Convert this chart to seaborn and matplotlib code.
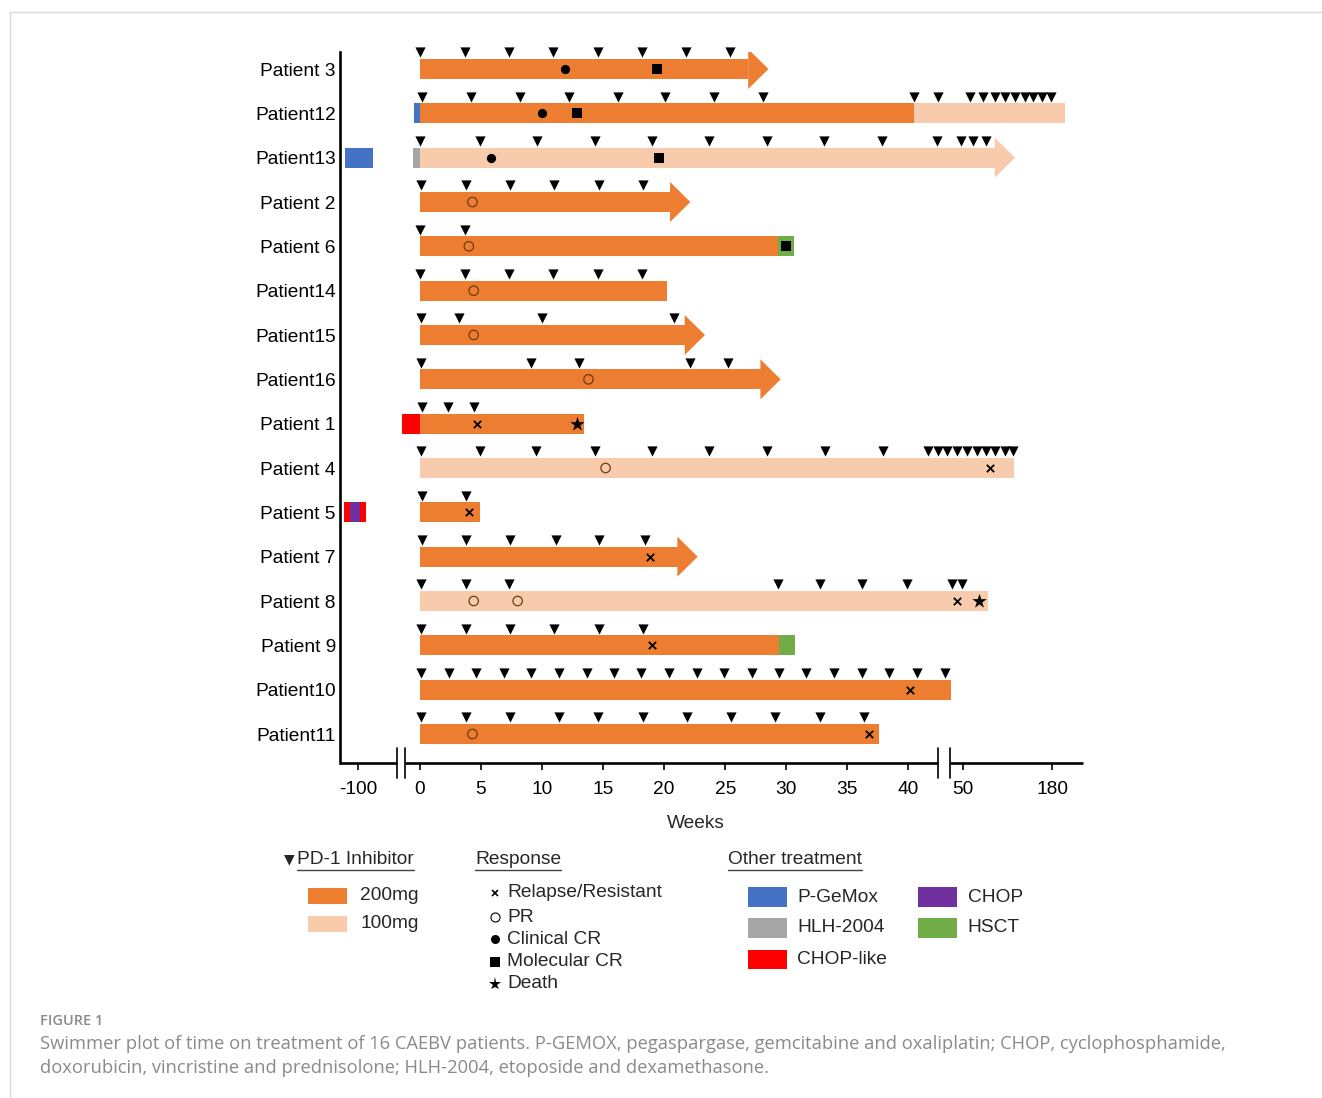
import numpy as np
import pandas as pd
import matplotlib.pyplot as plt
import seaborn as sns
from matplotlib.patches import Polygon, Rectangle
from matplotlib.lines import Line2D
import matplotlib.transforms as mtransforms

# 1. Dados (semanas)

patients = ["Patient 3", "Patient12", "Patient13", "Patient 2", "Patient 6", "Patient14",
            "Patient15", "Patient16", "Patient 1", "Patient 4", "Patient 5", "Patient 7",
            "Patient 8", "Patient 9", "Patient10", "Patient11"]

# PD-1 inhibitor: (patient, start, end)
dose_200mg = [("Patient 3", 0, 26.9), ("Patient12", 0, 41.0), ("Patient 2", 0, 20.5),
              ("Patient 6", 0, 29.3), ("Patient14", 0, 20.2), ("Patient15", 0, 21.7),
              ("Patient16", 0, 27.9), ("Patient 1", 0, 13.4), ("Patient 5", 0, 4.9),
              ("Patient 7", 0, 21.1), ("Patient 9", 0, 29.4), ("Patient10", 0, 47.8),
              ("Patient11", 0, 37.6)]
dose_100mg = [("Patient12", 41.0, 198.5), ("Patient13", 0, 96.2), ("Patient 4", 0, 124.0),
              ("Patient 8", 0, 86.0)]

# still on treatment (arrow at the end)
ongoing = ["Patient 3", "Patient13", "Patient 2", "Patient15", "Patient16", "Patient 7"]

# other treatment: (patient, treatment, start, end)
other_tx = [("Patient12", "P-GeMox", -0.5, 0), ("Patient13", "P-GeMox", -111.2, -87.7),
            ("Patient13", "HLH-2004", -0.6, 0), ("Patient 1", "CHOP-like", -1.5, 0),
            ("Patient 5", "CHOP-like", -111.4, -106.8), ("Patient 5", "CHOP", -106.8, -98.6),
            ("Patient 5", "CHOP-like", -98.6, -93.9), ("Patient 6", "HSCT", 29.3, 30.6),
            ("Patient 9", "HSCT", 29.4, 30.7)]

# PD-1 doses (weeks)
pd1_doses = {
    "Patient 3": [0, 3.7, 7.3, 10.9, 14.6, 18.2, 21.8, 25.4],
    "Patient12": [0.2, 4.2, 8.2, 12.2, 16.2, 20.1, 24.1, 28.1, 41.0, 45.4, 59.8, 79.1,
                  96.2, 110.8, 125.4, 140.0, 152.2, 164.5, 177.5],
    "Patient13": [0, 4.9, 9.6, 14.3, 19.0, 23.7, 28.4, 33.1, 37.8, 45.2, 49.5, 64.6, 82.6],
    "Patient 2": [0.1, 3.8, 7.4, 11.0, 14.7, 18.3],
    "Patient 6": [0, 3.7],
    "Patient14": [0, 3.7, 7.3, 10.9, 14.6, 18.2],
    "Patient15": [0.1, 3.2, 10.0, 20.8],
    "Patient16": [0.1, 9.1, 13.0, 22.1, 25.2],
    "Patient 1": [0.2, 2.3, 4.4],
    "Patient 4": [0.1, 4.9, 9.5, 14.3, 19.0, 23.7, 28.4, 33.2, 37.9, 43.6, 45.3, 47.0,
                  48.8, 55.3, 69.3, 83.2, 96.9, 110.8, 122.0],
    "Patient 5": [0.2, 3.8],
    "Patient 7": [0.2, 3.8, 7.4, 11.1, 14.7, 18.4],
    "Patient 8": [0.1, 3.8, 7.3, 29.3, 32.8, 36.2, 39.9, 48.0, 49.8],
    "Patient 9": [0.1, 3.8, 7.4, 11.0, 14.7, 18.3],
    "Patient10": [0.1, 2.4, 4.6, 6.9, 9.1, 11.4, 13.7, 15.9, 18.1, 20.4, 22.7, 24.9,
                  27.2, 29.4, 31.6, 33.9, 36.2, 38.4, 41.6, 46.6],
    "Patient11": [0.1, 3.8, 7.4, 11.4, 14.6, 18.3, 21.9, 25.5, 29.1, 32.8, 36.4],
}

# respostas: (patient, week)
relapse = [("Patient 1", 4.7), ("Patient 4", 88.9), ("Patient 5", 4.0), ("Patient 7", 18.8),
           ("Patient 8", 48.9), ("Patient 9", 19.0), ("Patient10", 40.3), ("Patient11", 36.8)]
pr = [("Patient 2", 4.3), ("Patient 6", 4.0), ("Patient14", 4.4), ("Patient15", 4.4),
      ("Patient16", 13.8), ("Patient 4", 15.2), ("Patient 8", 4.4), ("Patient 8", 8.0),
      ("Patient11", 4.3)]
clinical_cr = [("Patient 3", 11.9), ("Patient12", 10.0), ("Patient13", 5.8)]
molecular_cr = [("Patient 3", 19.4), ("Patient12", 12.9), ("Patient13", 19.6), ("Patient 6", 30.0)]
death = [("Patient 1", 12.9), ("Patient 8", 73.5)]

x_ticks = [-100, 0, 5, 10, 15, 20, 25, 30, 35, 40, 50, 180]

tx_colors = {"P-GeMox": "#4472C4", "HLH-2004": "#A5A5A5", "CHOP-like": "#FF0000",
             "CHOP": "#7030A0", "HSCT": "#70AD47"}
c200 = "#ED7D31"
c100 = "#F8CBAD"

# eixo quebrado: semanas -> posicao no grafico
WK_ANCH = [-200, -100, -70, -2, 40, 50, 180, 400]
POS_ANCH = [-15.05, -5.05, -2.05, -2, 40, 44.5, 51.79, 64.13]


def to_pos(w):
    return np.interp(w, WK_ANCH, POS_ANCH)


row = {p: i for i, p in enumerate(patients)}

# 2. Figura
sns.set_theme(style="white")
plt.rcParams['font.family'] = ['Liberation Sans', 'DejaVu Sans']

W, H = 1322, 1098
fig = plt.figure(figsize=(W / 100, H / 100), dpi=100)


def fx(px):
    return px / W


def fy(py):
    return 1 - py / H


ax = fig.add_axes([fx(340), fy(763), (1083 - 340) / W, (763 - 52) / H])
ax.set_xlim(-6.55, 54.3)
ax.set_ylim(15.654, -0.3835)

bar_h = 0.444
head_len = 1.64
head_half = 0.451
fs = 13.8

# barras PD-1
last_seg = {}
for segs, col in [(dose_200mg, c200), (dose_100mg, c100)]:
    for p, s, e in segs:
        x0, x1 = to_pos(s), to_pos(e)
        ax.barh(row[p], x1 - x0, left=x0, height=bar_h, color=col, edgecolor="none", zorder=2)
        if p not in last_seg or e > last_seg[p][1]:
            last_seg[p] = (col, e)

# pontas de seta (em tratamento)
for p in ongoing:
    col, e = last_seg[p]
    xe = to_pos(e)
    y = row[p]
    ax.add_patch(Polygon([(xe - 0.02, y - head_half), (xe + head_len, y), (xe - 0.02, y + head_half)],
                         closed=True, facecolor=col, edgecolor="none", zorder=2))

# outros tratamentos
for p, t, s, e in other_tx:
    x0, x1 = to_pos(s), to_pos(e)
    ax.barh(row[p], x1 - x0, left=x0, height=bar_h, color=tx_colors[t], edgecolor="none", zorder=2.5)

# doses PD-1 (triangulos)
dose_df = pd.DataFrame([(to_pos(w), row[p] - 0.375) for p, ws in pd1_doses.items() for w in ws],
                       columns=["x", "y"])
sns.scatterplot(data=dose_df, x="x", y="y", marker="v", s=54, color="black", linewidth=0,
                ax=ax, zorder=4, clip_on=False, legend=False)


def resp_df(items):
    return pd.DataFrame([(to_pos(w), row[p]) for p, w in items], columns=["x", "y"])


sns.scatterplot(data=resp_df(relapse), x="x", y="y", marker="x", s=28, color="black",
                linewidth=1.3, ax=ax, zorder=5, legend=False)
sns.scatterplot(data=resp_df(pr), x="x", y="y", marker="o", s=46, facecolor="none",
                edgecolor="#6e3a12", linewidth=0.9, ax=ax, zorder=5, legend=False)
sns.scatterplot(data=resp_df(clinical_cr), x="x", y="y", marker="o", s=44, color="black",
                linewidth=0, ax=ax, zorder=5, legend=False)
sns.scatterplot(data=resp_df(molecular_cr), x="x", y="y", marker="s", s=50, color="black",
                linewidth=0, ax=ax, zorder=5, legend=False)
sns.scatterplot(data=resp_df(death), x="x", y="y", marker="*", s=120, color="black",
                linewidth=0, ax=ax, zorder=5, legend=False)

# eixos
ax.set_xlabel("")
ax.set_ylabel("")
ax.set_yticks(range(len(patients)))
ax.set_yticklabels(patients)
ax.tick_params(axis="y", length=0, pad=3, labelsize=fs, labelcolor="black")
ax.set_xticks(to_pos(x_ticks))
ax.set_xticklabels([str(t) for t in x_ticks])
ax.tick_params(axis="x", direction="out", length=5, width=1.2, color="black", pad=8,
               labelsize=fs, labelcolor="black", bottom=True)
for side in ["top", "right", "bottom"]:
    ax.spines[side].set_visible(False)
ax.spines["left"].set_linewidth(1.9)
ax.spines["left"].set_color("black")

# linha do eixo x com quebras
blend = mtransforms.blended_transform_factory(ax.transData, ax.transAxes)
breaks = [(-1.91, -1.23), (42.45, 43.41)]
xl = ax.get_xlim()
pieces = [(xl[0], breaks[0][0]), (breaks[0][1], breaks[1][0]), (breaks[1][1], xl[1])]
for a, b in pieces:
    ax.plot([a, b], [0, 0], color="black", lw=1.9, transform=blend, clip_on=False,
            solid_capstyle="butt", zorder=6)
for a, b in breaks:
    for bx in (a, b):
        ax.plot([bx, bx], [-0.021, 0.021], color="black", lw=1.2, transform=blend,
                clip_on=False, zorder=6)

fig.text(fx(696), fy(824), "Weeks", ha="center", va="center", fontsize=fs)

# 3. Legenda (manual)
fig.text(fx(289), fy(859), "\u25BC", family="DejaVu Sans", fontsize=10, ha="center", va="center")
headers = [("PD-1 Inhibitor", 297), ("Response", 475), ("Other treatment", 728)]
head_txt = []
for label, xp in headers:
    head_txt.append(fig.text(fx(xp), fy(860), label, ha="left", va="center", fontsize=fs))

dose_labels = ["200mg", "100mg"]
for (lab, col), yc in zip(zip(dose_labels, [c200, c100]), [895.5, 924]):
    fig.add_artist(Rectangle((fx(307.5), fy(yc + 8)), 39 / W, 16 / H, transform=fig.transFigure,
                             facecolor=col, edgecolor="none"))
    fig.text(fx(360), fy(yc), lab, ha="left", va="center", fontsize=fs)

resp_labels = ["Relapse/Resistant", "PR", "Clinical CR", "Molecular CR", "Death"]
resp_marks = [("x", 5, "black", 1.2), ("o", 6.5, "none", 0.8), ("o", 6.5, "black", 0),
              ("s", 6.5, "black", 0), ("*", 9.5, "black", 0)]
for lab, (mk, ms, fc, lw), yc in zip(resp_labels, resp_marks, [892.7, 917.3, 939, 961.7, 984]):
    fig.add_artist(Line2D([fx(495)], [fy(yc)], marker=mk, markersize=ms, markerfacecolor=fc,
                          markeredgecolor="black", markeredgewidth=lw, linestyle="none",
                          transform=fig.transFigure))
    fig.text(fx(507), fy(yc), lab, ha="left", va="center", fontsize=fs)

tx_layout = [("P-GeMox", 747.5, 897), ("HLH-2004", 747.5, 928), ("CHOP-like", 747.5, 959.5),
             ("CHOP", 917.5, 897), ("HSCT", 917.5, 928)]
for lab, xp, yc in tx_layout:
    fig.add_artist(Rectangle((fx(xp), fy(yc + 9.75)), 39.5 / W, 19.5 / H,
                             transform=fig.transFigure, facecolor=tx_colors[lab], edgecolor="none"))
    fig.text(fx(xp + 50), fy(yc), lab, ha="left", va="center", fontsize=fs)

# sublinhado dos titulos
fig.canvas.draw()
rend = fig.canvas.get_renderer()
for t in head_txt:
    bb = t.get_window_extent(rend)
    fig.add_artist(Line2D([bb.x0 / W, bb.x1 / W], [fy(869.5), fy(869.5)], color="#404040",
                          lw=1.0, transform=fig.transFigure))

# 4. Legenda da figura e moldura
cap_col = "#8a8a8a"
fig.text(fx(40), fy(1021), "FIGURE 1", family="Open Sans", fontsize=10.5, color=cap_col,
         fontweight="semibold", va="center")
fig.text(fx(40), fy(1044),
         "Swimmer plot of time on treatment of 16 CAEBV patients. P-GEMOX, pegaspargase, "
         "gemcitabine and oxaliplatin; CHOP, cyclophosphamide,",
         family="Open Sans", fontsize=13.2, color=cap_col, va="center")
fig.text(fx(40), fy(1068),
         "doxorubicin, vincristine and prednisolone; HLH-2004, etoposide and dexamethasone.",
         family="Open Sans", fontsize=13.2, color=cap_col, va="center")

fig.add_artist(Line2D([fx(10), 1], [fy(12), fy(12)], color="#d9d9d9", lw=1, transform=fig.transFigure))
fig.add_artist(Line2D([fx(10), fx(10)], [fy(12), 0], color="#d9d9d9", lw=1, transform=fig.transFigure))

fig.savefig("out.png", dpi=100)
